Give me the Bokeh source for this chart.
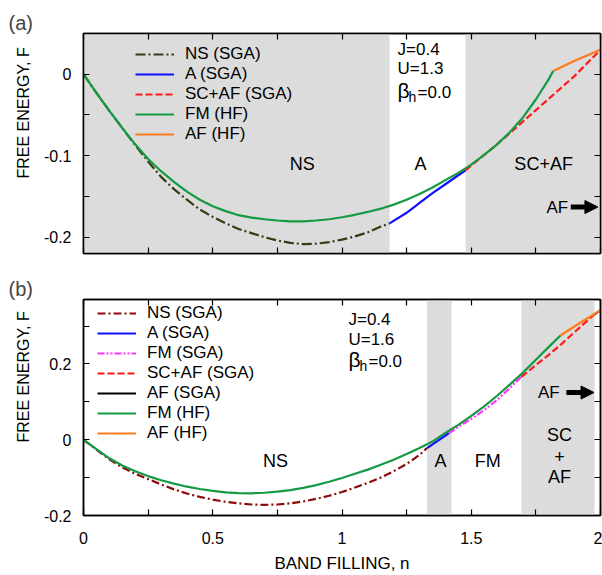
from bokeh.plotting import figure
from bokeh.models import (Range1d, LinearAxis, FixedTicker, Legend, LegendItem,
                          Label, Arrow, NormalHead, Title)
from bokeh.layouts import column
from bokeh.embed import file_html
from bokeh.resources import INLINE

FONT = "Liberation Sans"
GRAY = "#dcdcdc"

# ---------------- panel (a): J=0.4, U=1.3 ----------------
a_ns_n = [0, 0.05, 0.1, 0.15, 0.2, 0.25, 0.3, 0.35, 0.4, 0.45, 0.5, 0.55, 0.6, 0.65,
          0.7, 0.75, 0.8, 0.85, 0.9, 0.95, 1.0, 1.05, 1.1, 1.15, 1.184]
a_ns_f = [0, -0.023, -0.045, -0.066, -0.087, -0.107, -0.126, -0.141, -0.154, -0.166,
          -0.175, -0.183, -0.190, -0.195, -0.200, -0.204, -0.207, -0.2085, -0.208,
          -0.206, -0.203, -0.199, -0.194, -0.187, -0.183]
a_a_n = [1.184, 1.25, 1.304, 1.35, 1.4, 1.45, 1.478]
a_a_f = [-0.183, -0.170, -0.157, -0.146, -0.135, -0.124, -0.118]
a_scaf_n = [1.478, 1.55, 1.6, 1.65, 1.7, 1.75, 1.8, 1.85, 1.9, 1.95, 2.0]
a_scaf_f = [-0.118, -0.099, -0.086, -0.072, -0.058, -0.044, -0.030, -0.016, -0.002,
            0.014, 0.030]
a_fm_n = [0, 0.05, 0.1, 0.15, 0.2, 0.25, 0.3, 0.35, 0.4, 0.45, 0.5, 0.55, 0.6, 0.65,
          0.7, 0.75, 0.8, 0.85, 0.9, 0.95, 1.0, 1.05, 1.1, 1.15, 1.2, 1.25, 1.3, 1.35,
          1.4, 1.45, 1.5, 1.55, 1.6, 1.65, 1.7, 1.75, 1.8, 1.817]
a_fm_f = [0, -0.023, -0.045, -0.066, -0.086, -0.104, -0.119, -0.132, -0.144, -0.154,
          -0.162, -0.168, -0.173, -0.176, -0.178, -0.1795, -0.1805, -0.1805, -0.1795,
          -0.178, -0.1755, -0.1725, -0.169, -0.165, -0.160, -0.154, -0.147, -0.139,
          -0.130, -0.121, -0.111, -0.099, -0.086, -0.071, -0.053, -0.031, -0.006, 0.004]
a_af_n = [1.817, 1.9, 2.0]
a_af_f = [0.004, 0.0165, 0.030]
a_shade_left = [0, 1.478]
a_shade_right = [1.184, 2.0]

# ---------------- panel (b): J=0.4, U=1.6 ----------------
b_ns_n = [0, 0.05, 0.1, 0.15, 0.2, 0.25, 0.3, 0.35, 0.4, 0.45, 0.5, 0.55, 0.6, 0.65,
          0.7, 0.75, 0.8, 0.85, 0.9, 0.95, 1.0, 1.05, 1.1, 1.15, 1.2, 1.25, 1.3, 1.329]
b_ns_f = [0, -0.026, -0.052, -0.073, -0.090, -0.104, -0.118, -0.131, -0.142, -0.151,
          -0.158, -0.164, -0.168, -0.171, -0.172, -0.171, -0.168, -0.163, -0.156,
          -0.148, -0.138, -0.126, -0.114, -0.100, -0.083, -0.064, -0.040, -0.022]
b_a_n = [1.329, 1.37, 1.413]
b_a_f = [-0.022, -0.003, 0.017]
b_fms_n = [1.413, 1.45, 1.5, 1.55, 1.6, 1.65, 1.694]
b_fms_f = [0.017, 0.034, 0.055, 0.078, 0.105, 0.137, 0.166]
b_scaf_n = [1.694, 1.75, 1.8, 1.85, 1.9, 1.95, 1.977]
b_scaf_f = [0.166, 0.197, 0.224, 0.253, 0.284, 0.315, 0.331]
b_afs_n = [1.977, 2.0]
b_afs_f = [0.331, 0.342]
b_fm_n = [0, 0.05, 0.1, 0.15, 0.2, 0.25, 0.3, 0.35, 0.4, 0.45, 0.5, 0.55, 0.6, 0.65,
          0.7, 0.75, 0.8, 0.85, 0.9, 0.95, 1.0, 1.05, 1.1, 1.15, 1.2, 1.25, 1.3, 1.35,
          1.4, 1.45, 1.5, 1.55, 1.6, 1.65, 1.7, 1.75, 1.8, 1.845]
b_fm_f = [0, -0.025, -0.049, -0.068, -0.083, -0.096, -0.107, -0.116, -0.124, -0.130,
          -0.135, -0.139, -0.141, -0.1415, -0.140, -0.137, -0.133, -0.127, -0.120,
          -0.111, -0.101, -0.090, -0.079, -0.066, -0.053, -0.038, -0.022, -0.005,
          0.018, 0.039, 0.063, 0.088, 0.116, 0.146, 0.177, 0.211, 0.245, 0.275]
b_af_n = [1.845, 1.92, 2.0]
b_af_f = [0.275, 0.308, 0.342]
b_shade_left = [1.329, 1.694]
b_shade_right = [1.424, 1.977]

# tick values and labels
x_ticks = [round(0.25 * k, 2) for k in range(9)]
a_y_ticks = [round(-0.2 + 0.05 * k, 2) for k in range(6)]
b_y_ticks = [round(-0.2 + 0.1 * k, 2) for k in range(6)]
a_y_labels = {-0.2: "-0.2", -0.1: "-0.1", 0.0: "0"}
b_y_labels = {-0.2: "-0.2", 0.0: "0", 0.2: "0.2"}
b_x_labels = {0.0: "0", 0.5: "0.5", 1.0: "1", 1.5: "1.5", 2.0: "2"}

# annotations
y_title = "FREE ENERGY, F"
x_title = "BAND FILLING, n"
a_params = ["J=0.4", "U=1.3", "=0.0"]
b_params = ["J=0.4", "U=1.6", "=0.0"]


def overrides(ticks, labels):
    return {t: labels.get(t, "") for t in ticks}


def style_axis(ax, ticks, labels, show_labels=True, standoff=12):
    ax.ticker = FixedTicker(ticks=ticks)
    ax.major_label_overrides = overrides(ticks, labels)
    ax.major_tick_in = 6
    ax.major_tick_out = 0
    ax.minor_tick_in = 0
    ax.minor_tick_out = 0
    ax.axis_line_color = "black"
    ax.axis_line_width = 1.5
    ax.major_tick_line_color = "black"
    ax.major_tick_line_width = 1.2
    ax.major_label_text_font = FONT
    ax.major_label_text_color = "black"
    if show_labels:
        ax.major_label_text_font_size = "16px"
        ax.major_label_standoff = standoff
    else:
        ax.major_label_text_font_size = "0px"
        ax.major_label_standoff = 0
    ax.axis_label_text_font = FONT
    ax.axis_label_text_font_size = "17px"
    ax.axis_label_text_font_style = "normal"
    ax.axis_label_text_color = "black"


def make_fig(height, btop, bbot, yr, title, xlabels, ylabels, yticks, xlabel,
             shade_l, shade_r, ylab_offset):
    p = figure(width=602, height=height, x_range=Range1d(0, 2), y_range=Range1d(*yr),
               output_backend="svg", toolbar_location=None,
               min_border_left=83, min_border_right=2, min_border_top=btop,
               min_border_bottom=bbot, title=title)
    p.grid.visible = False
    p.outline_line_color = "black"
    p.outline_line_width = 1.5
    p.background_fill_color = "white"
    p.border_fill_color = "white"
    p.title.text_font = FONT
    p.title.text_font_size = "20px"
    p.title.text_font_style = "normal"
    p.title.align = "left"
    p.title.offset = -75
    p.title.standoff = 0
    style_axis(p.xaxis[0], x_ticks, xlabels, show_labels=bool(xlabels), standoff=16)
    style_axis(p.yaxis[0], yticks, ylabels, standoff=12)
    if xlabel:
        p.xaxis[0].axis_label = xlabel
        p.xaxis[0].axis_label_standoff = 7
    top = LinearAxis()
    style_axis(top, x_ticks, {}, show_labels=False)
    right = LinearAxis()
    style_axis(right, yticks, {}, show_labels=False)
    p.add_layout(top, "above")
    p.add_layout(right, "right")
    # y-axis title: sits a little above the frame centre, as in the original
    p.add_layout(Title(text=y_title, align="left", offset=ylab_offset, standoff=18,
                       text_font=FONT, text_font_size="16px", text_font_style="normal",
                       text_color="black"), "left")
    p.quad(left=shade_l, right=shade_r, bottom=yr[0] - 0.01, top=yr[1] + 0.01,
           fill_color=GRAY, line_color=None)
    return p


def add_text(p, x, y, txt, size="18px", align="center", xo=0, yo=0):
    p.add_layout(Label(x=x, y=y, text=txt, text_font=FONT, text_font_size=size,
                       text_align=align, text_baseline="middle", x_offset=xo, y_offset=yo,
                       text_color="black"))


def add_beta(p, x, y, txt):
    add_text(p, x, y, "β", size="21px", align="left", yo=2)
    add_text(p, x, y, "h", size="14px", align="left", xo=11, yo=-4)
    add_text(p, x, y, txt, size="17px", align="left", xo=20)


def make_legend(p, items, loc):
    lg = Legend(items=[LegendItem(label=l, renderers=[r]) for l, r in items], location=loc)
    lg.label_text_font = FONT
    lg.label_text_font_size = "17px"
    lg.label_text_color = "black"
    lg.glyph_width = 39
    lg.glyph_height = 20
    lg.label_height = 20
    lg.spacing = 0
    lg.padding = 0
    lg.margin = 0
    lg.label_standoff = 11
    lg.background_fill_alpha = 0
    lg.border_line_alpha = 0
    p.add_layout(lg)


LW = 2.2

# ---------------- figure (a) ----------------
pa = make_fig(275, 33, 22, (-0.22, 0.05), "(a)", {}, a_y_labels, a_y_ticks, None,
              a_shade_left, a_shade_right, 75)
r_ns = pa.line(a_ns_n, a_ns_f, line_color="#3a3a14", line_width=LW, line_dash="10 3 2 3")
r_a = pa.line(a_a_n, a_a_f, line_color="#1010ff", line_width=LW)
r_sc = pa.line(a_scaf_n, a_scaf_f, line_color="#ff1a1a", line_width=LW, line_dash="7 3")
r_fm = pa.line(a_fm_n, a_fm_f, line_color="#139a43", line_width=LW)
r_af = pa.line(a_af_n, a_af_f, line_color="#ff7a1a", line_width=LW)
make_legend(pa, [("NS (SGA)", r_ns), ("A (SGA)", r_a), ("SC+AF (SGA)", r_sc),
                 ("FM (HF)", r_fm), ("AF (HF)", r_af)], (52, 109))
add_text(pa, 0.846, -0.11, "NS")
add_text(pa, 1.304, -0.11, "A")
add_text(pa, 1.78, -0.11, "SC+AF")
add_text(pa, 1.833, -0.163, "AF", size="17px")
pa.add_layout(Arrow(x_start=1.885, y_start=-0.163, x_end=1.99, y_end=-0.163, line_width=5,
                    line_color="black",
                    end=NormalHead(size=13, fill_color="black", line_color="black")))
add_text(pa, 1.215, 0.0305, a_params[0], size="17px", align="left")
add_text(pa, 1.215, 0.0073, a_params[1], size="17px", align="left")
add_beta(pa, 1.215, -0.023, a_params[2])

# ---------------- figure (b) ----------------
pb = make_fig(300, 22, 57, (-0.2, 0.37), "(b)", b_x_labels, b_y_labels, b_y_ticks,
              x_title, b_shade_left, b_shade_right, 73)
s_ns = pb.line(b_ns_n, b_ns_f, line_color="#8b0a0a", line_width=LW, line_dash="8 3 2 3")
s_a = pb.line(b_a_n, b_a_f, line_color="#1010ff", line_width=LW)
s_fms = pb.line(b_fms_n, b_fms_f, line_color="#ff33ff", line_width=LW,
                line_dash="7 2 2 2 2 2")
s_sc = pb.line(b_scaf_n, b_scaf_f, line_color="#ff1a1a", line_width=LW, line_dash="7 3")
s_afs = pb.line(b_afs_n, b_afs_f, line_color="black", line_width=LW)
s_fm = pb.line(b_fm_n, b_fm_f, line_color="#139a43", line_width=LW)
s_af = pb.line(b_af_n, b_af_f, line_color="#ff7a1a", line_width=LW)
make_legend(pb, [("NS (SGA)", s_ns), ("A (SGA)", s_a), ("FM (SGA)", s_fms),
                 ("SC+AF (SGA)", s_sc), ("AF (SGA)", s_afs), ("FM (HF)", s_fm),
                 ("AF (HF)", s_af)], (14, 72))
add_text(pb, 0.743, -0.057, "NS")
add_text(pb, 1.381, -0.057, "A")
add_text(pb, 1.564, -0.057, "FM")
add_text(pb, 1.841, 0.013, "SC")
add_text(pb, 1.841, -0.043, "+")
add_text(pb, 1.841, -0.098, "AF")
add_text(pb, 1.80, 0.1245, "AF", size="17px")
pb.add_layout(Arrow(x_start=1.868, y_start=0.1245, x_end=1.975, y_end=0.1245, line_width=5,
                    line_color="black",
                    end=NormalHead(size=13, fill_color="black", line_color="black")))
add_text(pb, 1.025, 0.317, b_params[0], size="17px", align="left")
add_text(pb, 1.025, 0.265, b_params[1], size="17px", align="left")
add_beta(pb, 1.025, 0.206, b_params[2])

layout = column(pa, pb, spacing=0)
open("out.html", "w").write(file_html(layout, INLINE))
